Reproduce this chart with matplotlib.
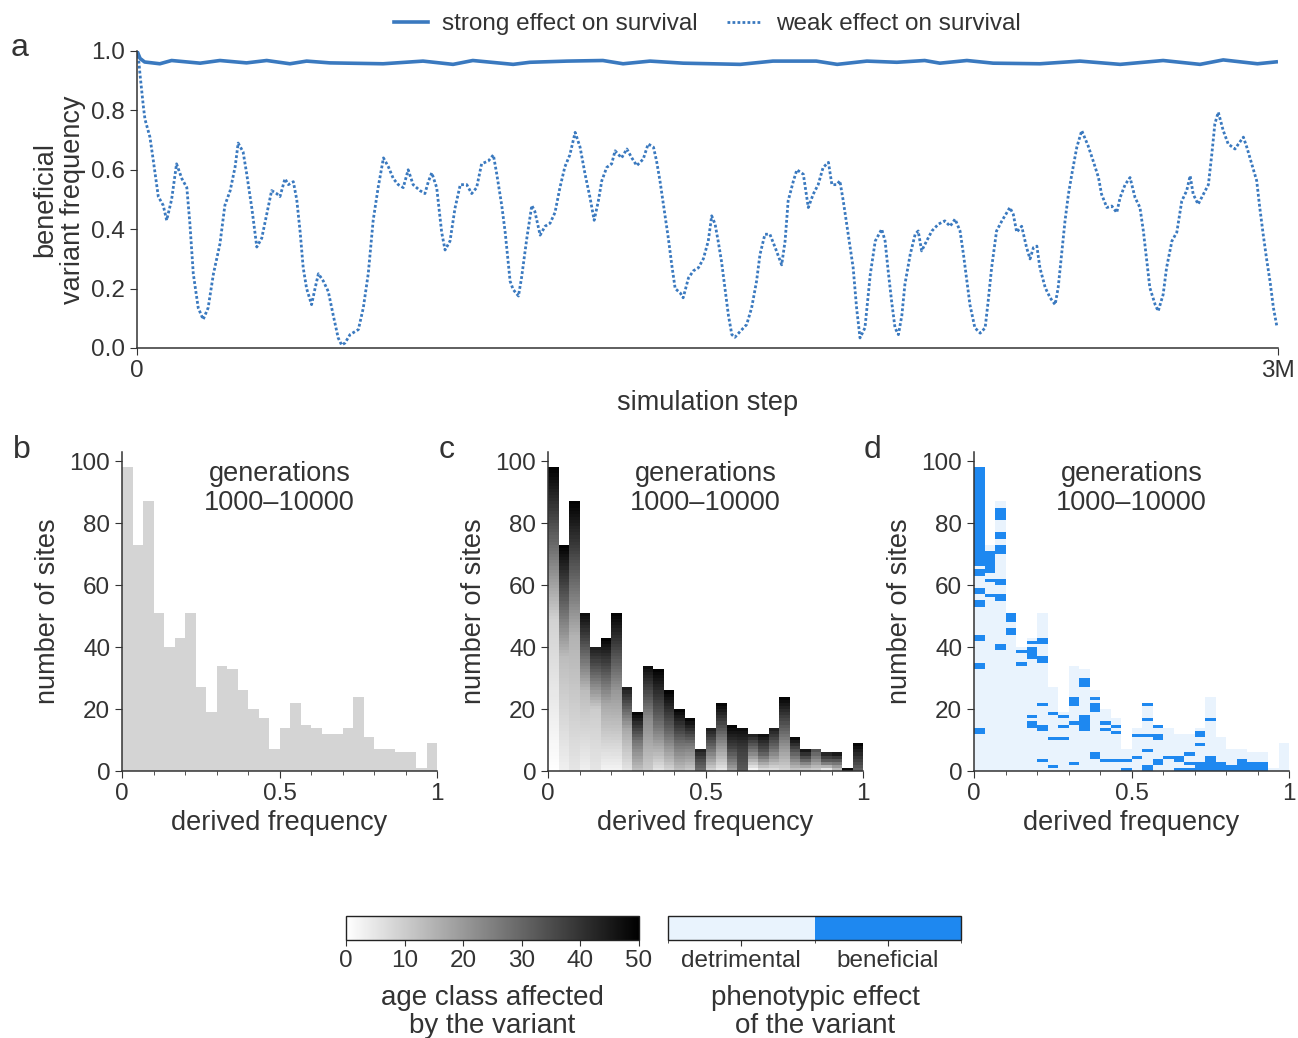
import numpy as np
import matplotlib
matplotlib.use("Agg")
import matplotlib.pyplot as plt
from matplotlib.colors import ListedColormap, Normalize, BoundaryNorm
from matplotlib.cm import ScalarMappable
from matplotlib.lines import Line2D
from matplotlib.ticker import MultipleLocator

plt.rcParams['font.family'] = ['Liberation Sans', 'DejaVu Sans']
TEXT = '#333333'
plt.rcParams.update({'text.color': TEXT, 'axes.labelcolor': TEXT,
                     'xtick.color': TEXT, 'ytick.color': TEXT,
                     'axes.edgecolor': TEXT, 'axes.linewidth': 1.1})

# ---------------- data ----------------
# panel a: simulation step (thousands) and beneficial variant frequency
weak_step_k = [0, 3, 8, 17, 21, 34, 43, 56, 69, 78,
               91, 104, 118, 131, 139, 148, 161, 174, 187, 201,
               218, 231, 245, 258, 266, 279, 288, 302, 310, 315,
               328, 341, 354, 367, 376, 389, 398, 411, 420, 429,
               437, 446, 459, 468, 477, 490, 503, 516, 529, 538,
               547, 560, 582, 595, 608, 621, 634, 648, 661, 674,
               687, 700, 713, 726, 744, 757, 766, 775, 788, 801,
               810, 823, 836, 850, 867, 880, 893, 906, 924, 937,
               946, 959, 968, 981, 989, 1003, 1011, 1025, 1038, 1046,
               1060, 1073, 1086, 1099, 1112, 1125, 1138, 1152, 1165, 1178,
               1191, 1202, 1213, 1222, 1235, 1248, 1257, 1274, 1288, 1301,
               1314, 1331, 1344, 1358, 1366, 1375, 1388, 1397, 1406, 1415,
               1428, 1436, 1450, 1463, 1476, 1489, 1502, 1511, 1520, 1528,
               1537, 1546, 1555, 1564, 1572, 1586, 1603, 1616, 1629, 1638,
               1651, 1664, 1678, 1695, 1704, 1712, 1726, 1735, 1752, 1765,
               1778, 1791, 1804, 1818, 1827, 1840, 1848, 1857, 1870, 1883,
               1892, 1901, 1914, 1928, 1941, 1958, 1967, 1975, 1984, 1993,
               2002, 2011, 2019, 2033, 2046, 2054, 2063, 2076, 2090, 2107,
               2124, 2138, 2151, 2164, 2173, 2182, 2190, 2203, 2217, 2230,
               2238, 2247, 2260, 2274, 2287, 2295, 2304, 2313, 2326, 2339,
               2348, 2357, 2366, 2374, 2388, 2401, 2414, 2422, 2431, 2440,
               2449, 2458, 2471, 2484, 2493, 2501, 2514, 2528, 2536, 2550,
               2563, 2576, 2585, 2598, 2611, 2624, 2637, 2646, 2655, 2663,
               2677, 2685, 2698, 2707, 2721, 2734, 2747, 2760, 2769, 2777,
               2790, 2804, 2817, 2826, 2834, 2843, 2856, 2869, 2887, 2896,
               2909, 2918, 2931, 2944, 2952, 2961, 2970, 2979, 2988, 2997]
weak_freq = [1.0, 0.99, 0.92, 0.81, 0.77, 0.71, 0.63, 0.51, 0.48, 0.43,
             0.50, 0.62, 0.57, 0.54, 0.42, 0.25, 0.135, 0.096, 0.135, 0.25,
             0.35, 0.48, 0.53, 0.61, 0.69, 0.66, 0.59, 0.47, 0.39, 0.34,
             0.37, 0.45, 0.53, 0.52, 0.51, 0.57, 0.55, 0.56, 0.50, 0.39,
             0.27, 0.20, 0.146, 0.20, 0.25, 0.225, 0.19, 0.11, 0.034, 0.01,
             0.017, 0.045, 0.062, 0.135, 0.25, 0.43, 0.54, 0.64, 0.61, 0.57,
             0.55, 0.54, 0.60, 0.55, 0.53, 0.52, 0.56, 0.59, 0.54, 0.39,
             0.33, 0.36, 0.47, 0.55, 0.55, 0.52, 0.54, 0.62, 0.63, 0.65,
             0.585, 0.48, 0.39, 0.225, 0.197, 0.175, 0.236, 0.37, 0.48, 0.46,
             0.38, 0.41, 0.42, 0.456, 0.54, 0.61, 0.65, 0.726, 0.676, 0.586,
             0.507, 0.43, 0.495, 0.563, 0.608, 0.62, 0.664, 0.64, 0.67, 0.64,
             0.614, 0.636, 0.687, 0.676, 0.63, 0.563, 0.45, 0.37, 0.28, 0.20,
             0.186, 0.169, 0.236, 0.26, 0.27, 0.30, 0.36, 0.445, 0.417, 0.36,
             0.29, 0.20, 0.11, 0.045, 0.036, 0.056, 0.079, 0.135, 0.225, 0.315,
             0.383, 0.383, 0.338, 0.28, 0.36, 0.495, 0.563, 0.60, 0.585, 0.473,
             0.518, 0.55, 0.608, 0.625, 0.55, 0.55, 0.563, 0.495, 0.383, 0.27,
             0.135, 0.034, 0.068, 0.248, 0.36, 0.40, 0.36, 0.26, 0.158, 0.068,
             0.045, 0.11, 0.214, 0.315, 0.383, 0.394, 0.327, 0.36, 0.394, 0.417,
             0.428, 0.41, 0.434, 0.394, 0.315, 0.225, 0.146, 0.068, 0.05, 0.068,
             0.158, 0.27, 0.394, 0.428, 0.456, 0.473, 0.45, 0.39, 0.41, 0.338,
             0.30, 0.338, 0.343, 0.27, 0.203, 0.169, 0.146, 0.203, 0.315, 0.428,
             0.518, 0.586, 0.676, 0.732, 0.704, 0.68, 0.63, 0.574, 0.518, 0.473,
             0.478, 0.456, 0.507, 0.55, 0.574, 0.507, 0.473, 0.394, 0.293, 0.203,
             0.146, 0.124, 0.18, 0.27, 0.36, 0.39, 0.495, 0.53, 0.58, 0.518,
             0.484, 0.518, 0.55, 0.653, 0.755, 0.794, 0.732, 0.687, 0.67, 0.687,
             0.71, 0.676, 0.62, 0.563, 0.473, 0.383, 0.30, 0.225, 0.135, 0.073]
strong_step_k = [0, 8, 20, 60, 91, 166, 218, 288, 341, 402,
                 446, 507, 647, 752, 831, 883, 989, 1033, 1131, 1225,
                 1278, 1349, 1436, 1586, 1672, 1786, 1841, 1919, 1998, 2071,
                 2111, 2182, 2251, 2374, 2479, 2585, 2698, 2795, 2856, 2946, 3000]
strong_freq = [1.0, 0.975, 0.963, 0.957, 0.968, 0.959, 0.968, 0.960, 0.968, 0.957,
               0.966, 0.960, 0.957, 0.966, 0.955, 0.968, 0.955, 0.962, 0.966, 0.968,
               0.957, 0.966, 0.959, 0.955, 0.966, 0.966, 0.955, 0.966, 0.962, 0.968,
               0.959, 0.968, 0.959, 0.957, 0.966, 0.955, 0.968, 0.955, 0.970, 0.957, 0.964]

# panels b-d: 30 bins of derived frequency, generations 1000-10000
site_counts = [98, 73, 87, 51, 40, 43, 51, 27, 19, 34,
               33, 26, 20, 17, 7, 14, 22, 15, 14, 12,
               12, 14, 24, 11, 7, 7, 6, 6, 1, 9]
# panel c: age class of the sites at bottom, middle and top of each stacked bar
age_bottom = [0, 3, 5, 3, 5, 2, 2, 5, 12, 10, 5, 8, 12, 10, 28,
              8, 4, 17, 32, 0, 5, 5, 8, 10, 8, 8, 0, 10, 48, 30]
age_mid = [9, 13, 15, 13, 10, 17, 20, 17, 27, 23, 30, 30, 30, 27, 35,
           28, 27, 37, 38, 25, 33, 28, 28, 30, 30, 22, 30, 30, 48, 40]
age_top = [50, 50, 50, 48, 45, 50, 50, 45, 50, 48, 50, 50, 50, 50, 45,
           45, 50, 50, 48, 45, 48, 45, 50, 50, 48, 35, 45, 48, 48, 50]
# panel d: runs of beneficial sites in each bar, as (first site, number of sites)
beneficial_runs = [
    [(12, 2), (33, 2), (42, 2), (53, 2), (57, 2), (63, 2), (66, 32)],
    [(56, 1), (61, 1), (64, 7)],
    [(39, 2), (55, 2), (60, 2), (70, 3), (75, 2), (81, 4)],
    [(44, 2), (48, 3)],
    [(34, 1), (38, 1)],
    [(14, 2), (17, 1), (36, 4), (41, 1)],
    [(3, 1), (13, 2), (21, 1), (35, 2), (41, 2)],
    [(1, 1), (10, 1), (18, 1)],
    [(10, 1), (14, 1), (17, 1)],
    [(2, 1), (15, 1), (21, 3)],
    [(13, 5), (27, 3)],
    [(4, 2), (19, 3), (23, 1)],
    [(3, 1), (13, 1), (15, 1)],
    [(3, 1), (12, 1), (14, 1)],
    [(0, 1), (3, 1)],
    [(4, 1), (11, 1)],
    [(0, 2), (6, 1), (11, 1), (16, 1), (21, 1)],
    [(2, 2), (10, 2), (14, 1)],
    [(4, 1)],
    [(0, 1), (3, 2)],
    [(0, 1), (2, 1), (5, 1)],
    [(0, 3), (8, 1), (11, 2)],
    [(0, 5), (16, 1)],
    [(0, 3)],
    [(0, 2)],
    [(0, 4)],
    [(0, 3)],
    [(0, 3)],
    [],
    [],
]
age_ticks = [0, 10, 20, 30, 40, 50]
effect_labels = ['detrimental', 'beneficial']

# ---------------- style ----------------
LINE_C = '#3a79bf'
GRAY_BAR = '#d4d4d4'
LIGHT_BLUE = '#e9f3fd'
BLUE = '#1e88f0'
W, H = 1298, 1038
FS_TICK = 17.5
FS_LAB = 19.5

fig = plt.figure(figsize=(W / 100, H / 100), dpi=100)

# ---------------- panel a ----------------
axA = fig.add_axes([137 / W, 1 - 348 / H, 1141 / W, 297 / H])
axA.plot(strong_step_k, strong_freq, color=LINE_C, lw=2.6, solid_capstyle='butt')
axA.plot(weak_step_k, weak_freq, color=LINE_C, lw=2.0, linestyle=(0, (1, 0.8)),
         dash_capstyle='butt')
axA.set_xlim(0, 3000)
axA.set_ylim(0, 1.0)
axA.set_xticks([0, 3000])
axA.set_xticklabels(['0', '3M'])
axA.set_yticks([0, 0.2, 0.4, 0.6, 0.8, 1.0])
axA.set_yticklabels(['0.0', '0.2', '0.4', '0.6', '0.8', '1.0'])
axA.tick_params(labelsize=FS_TICK, length=5)
for s in ['top', 'right']:
    axA.spines[s].set_visible(False)
axA.set_xlabel('simulation step', fontsize=FS_LAB, labelpad=6)
axA.set_ylabel('beneficial\nvariant frequency', fontsize=FS_LAB, labelpad=4,
               linespacing=1.05)

handles = [Line2D([], [], color=LINE_C, lw=2.6),
           Line2D([], [], color=LINE_C, lw=2.0, linestyle=(0, (1, 0.8)))]
fig.legend(handles, ['strong effect on survival', 'weak effect on survival'],
           loc='center', bbox_to_anchor=(707 / W, 1 - 24 / H), ncol=2,
           frameon=False, fontsize=FS_TICK, handlelength=1.4,
           columnspacing=1.2, handletextpad=0.6)

# ---------------- panels b, c, d ----------------
nb = len(site_counts)
edges = np.linspace(0, 1, nb + 1)
lefts = edges[:-1]
bw = 1.0 / nb
gray_cmap = plt.get_cmap('gray_r')
age_norm = Normalize(0, 50)


def style_hist(ax):
    ax.set_xlim(0, 1)
    ax.set_ylim(0, 103)
    ax.set_yticks([0, 20, 40, 60, 80, 100])
    ax.set_xticks([0, 0.5, 1])
    ax.set_xticklabels(['0', '0.5', '1'])
    ax.xaxis.set_minor_locator(MultipleLocator(0.1))
    ax.tick_params(labelsize=FS_TICK, length=5)
    ax.tick_params(which='minor', length=3)
    for s in ['top', 'right']:
        ax.spines[s].set_visible(False)
    ax.set_xlabel('derived frequency', fontsize=FS_LAB, labelpad=4)
    ax.set_ylabel('number of sites', fontsize=FS_LAB, labelpad=6)
    ax.text(0.5, 0.885, 'generations\n1000\u201310000', transform=ax.transAxes,
            ha='center', va='center', fontsize=FS_LAB, linespacing=1.15)


hist_lefts_px = [122, 548, 974]
axes_h = [fig.add_axes([lp / W, 1 - 771 / H, 315 / W, 319.3 / H]) for lp in hist_lefts_px]
axB, axC, axD = axes_h

# b
axB.bar(lefts, site_counts, width=bw, align='edge', color=GRAY_BAR, linewidth=0)
style_hist(axB)

# c: stacked single sites coloured by age class
xs, bots, cols = [], [], []
for i, h in enumerate(site_counts):
    for j in range(h):
        age = np.interp(j + 0.5, [0, h / 2, h], [age_bottom[i], age_mid[i], age_top[i]])
        xs.append(lefts[i])
        bots.append(j)
        cols.append(gray_cmap(age_norm(age)))
axC.bar(xs, np.ones(len(xs)), width=bw, bottom=bots, align='edge', color=cols,
        linewidth=0, antialiased=False)
style_hist(axC)

# d
axD.bar(lefts, site_counts, width=bw, align='edge', color=LIGHT_BLUE, linewidth=0)
bx, bb, bh = [], [], []
for i, runs in enumerate(beneficial_runs):
    for start, n in runs:
        bx.append(lefts[i])
        bb.append(start)
        bh.append(n)
axD.bar(bx, bh, width=bw, bottom=bb, align='edge', color=BLUE, linewidth=0)
style_hist(axD)

# panel letters
for lab, (px, py) in zip(['a', 'b', 'c', 'd'],
                         [(20, 48), (22, 450), (447, 450), (873, 450)]):
    fig.text(px / W, 1 - py / H, lab, fontsize=23, ha='center', va='center')

# ---------------- colour bars ----------------
caxG = fig.add_axes([346 / W, 1 - 940 / H, 293 / W, 24 / H])
cbG = fig.colorbar(ScalarMappable(norm=age_norm, cmap=gray_cmap), cax=caxG,
                   orientation='horizontal', ticks=age_ticks)
cbG.ax.tick_params(labelsize=FS_TICK, length=4)
cbG.outline.set_linewidth(1.0)
cbG.outline.set_edgecolor('#222222')
fig.text(492 / W, 1 - 985 / H, 'age class affected\nby the variant',
         ha='center', va='top', fontsize=FS_LAB + 0.5, linespacing=1.1)

caxB = fig.add_axes([668 / W, 1 - 940 / H, 293 / W, 24 / H])
eff_cmap = ListedColormap([LIGHT_BLUE, BLUE])
eff_norm = BoundaryNorm([0, 1, 2], 2)
cbB = fig.colorbar(ScalarMappable(norm=eff_norm, cmap=eff_cmap), cax=caxB,
                   orientation='horizontal', ticks=[0.5, 1.5])
cbB.ax.set_xticklabels(effect_labels)
cbB.ax.tick_params(labelsize=FS_TICK, length=4)
cbB.outline.set_linewidth(1.0)
cbB.outline.set_edgecolor('#222222')
fig.text(815 / W, 1 - 985 / H, 'phenotypic effect\nof the variant',
         ha='center', va='top', fontsize=FS_LAB + 0.5, linespacing=1.1)

fig.savefig('out.png', dpi=100)
